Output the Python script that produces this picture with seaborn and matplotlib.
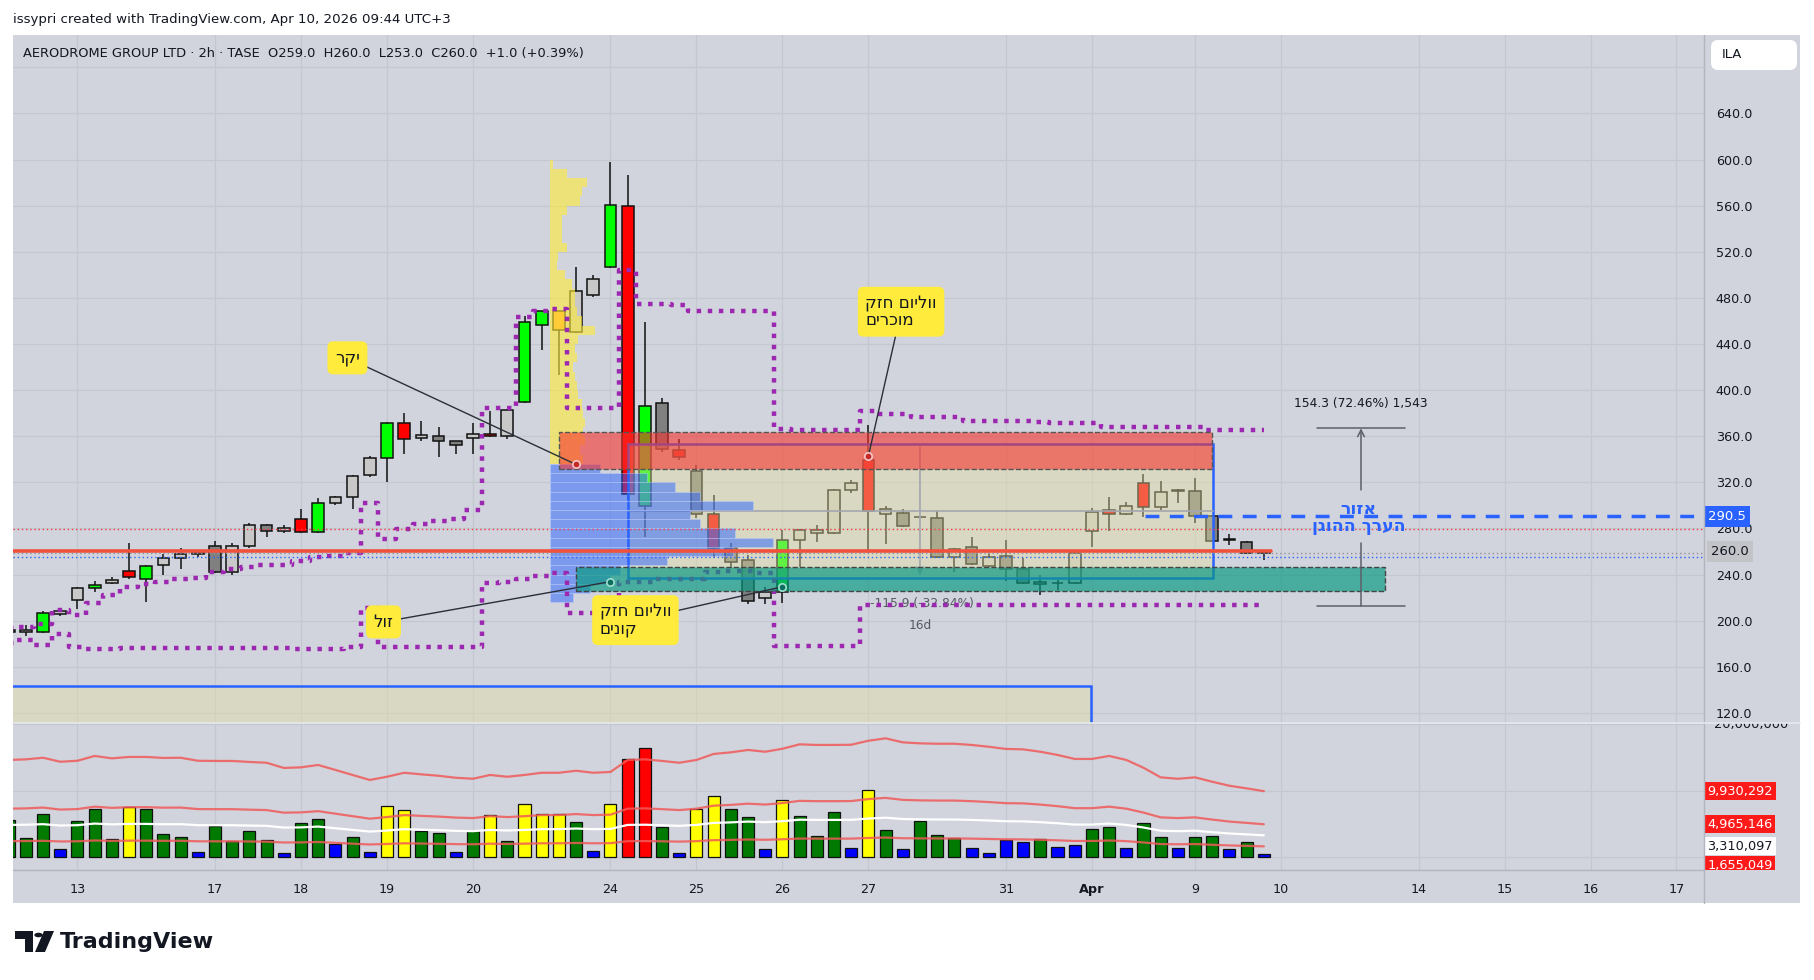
import numpy as np
import matplotlib
matplotlib.use("Agg")
import matplotlib.pyplot as plt
import matplotlib.transforms as mtransforms
from matplotlib.patches import Rectangle, FancyBboxPatch, Polygon, Circle
import seaborn as sns

# ---------------- data ----------------
bar_index = list(range(-4, 70))
opens = [190.0, 190.1, 190.0, 205.6, 218.3, 228.2, 232.5, 242.8, 236.5, 248.0,
         254.5, 257.6, 264.5, 242.2, 264.5, 283.0, 277.5, 288.0, 276.9, 302.5,
         307.2, 326.7, 341.2, 371.3, 358.3, 359.9, 355.8, 358.3, 362.3, 359.9,
         389.3, 456.5, 468.3, 450.6, 482.1, 507.0, 559.7, 299.5, 388.5, 348.0,
         329.8, 292.3, 262.8, 252.7, 219.4, 224.6, 270.0, 275.8, 275.8, 313.4,
         339.2, 292.3, 293.6, 289.7, 288.8, 255.0, 263.7, 247.5, 256.5, 245.0,
         232.0, 232.5, 232.5, 278.1, 296.0, 292.3, 319.2, 298.3, 312.8, 312.2,
         291.1, 270.0, 268.0, 259.0]
highs = [194.0, 196.3, 208.7, 209.5, 229.0, 234.4, 237.5, 267.8, 248.0, 258.2,
         262.9, 260.7, 269.2, 267.8, 284.8, 283.5, 283.0, 297.0, 306.5, 308.5,
         326.0, 343.0, 372.0, 380.0, 373.2, 368.0, 356.0, 371.3, 381.5, 383.5,
         464.6, 469.0, 469.0, 506.7, 499.5, 597.9, 586.6, 458.8, 393.0, 357.6,
         335.0, 309.0, 267.7, 257.0, 229.5, 278.7, 279.5, 283.0, 314.5, 322.3,
         369.7, 299.5, 296.5, 290.0, 295.0, 263.0, 272.9, 258.5, 270.0, 254.2,
         239.6, 235.3, 260.0, 298.0, 307.6, 302.7, 327.3, 321.4, 314.0, 323.4,
         291.5, 275.0, 268.8, 260.0]
lows = [188.5, 187.0, 189.4, 204.5, 210.5, 225.0, 232.0, 236.0, 216.4, 240.0,
        245.0, 255.2, 241.5, 240.0, 262.9, 273.0, 276.5, 276.0, 276.0, 300.5,
        297.2, 325.0, 320.5, 345.0, 356.0, 341.9, 345.0, 345.0, 359.5, 357.5,
        389.0, 435.2, 413.0, 449.5, 481.0, 506.0, 306.0, 272.9, 346.0, 339.4,
        288.8, 254.2, 246.0, 214.5, 214.5, 215.6, 246.9, 268.0, 275.0, 310.5,
        258.5, 266.3, 281.5, 289.4, 254.5, 242.0, 248.0, 246.5, 234.7, 232.0,
        222.3, 226.6, 232.0, 264.2, 278.1, 292.0, 290.2, 296.0, 302.4, 285.0,
        269.0, 265.7, 257.5, 253.0]
closes = [192.0, 191.6, 207.1, 208.1, 228.2, 231.3, 235.0, 237.5, 247.4, 254.5,
          257.6, 259.8, 242.2, 264.5, 283.0, 277.8, 280.0, 276.9, 302.5, 307.2,
          325.2, 341.2, 371.3, 357.3, 360.7, 355.8, 352.1, 362.3, 359.9, 382.4,
          459.0, 468.3, 451.8, 486.2, 496.1, 560.2, 310.0, 386.5, 348.6, 341.7,
          292.3, 262.8, 251.2, 217.4, 224.6, 270.0, 278.7, 278.7, 313.4, 319.2,
          295.0, 296.5, 282.4, 289.7, 255.0, 262.0, 249.0, 255.0, 245.0, 232.5,
          233.3, 232.5, 259.0, 294.6, 292.3, 299.4, 298.3, 311.4, 312.8, 291.1,
          269.4, 270.0, 258.5, 260.0]
candle_kind = list("LLGLLGLRGLLLDLLDLRGLLLGRLDDLRLGGOLLGRGDRDRDDLGLLLLRLDLDLDLDDLLLLRLRLLDDLDL")
volumes_m = [5.6, 2.85, 6.45, 1.2, 5.45, 7.2, 2.7, 7.6, 7.2, 3.45,
             3.1, 0.75, 4.7, 2.45, 3.95, 2.6, 0.6, 5.1, 5.7, 1.95,
             3.0, 0.75, 7.65, 7.05, 3.95, 3.6, 0.75, 3.95, 6.3, 2.45,
             7.95, 6.45, 6.45, 5.25, 0.95, 7.95, 14.7, 16.35, 4.55, 0.6,
             7.2, 9.15, 7.2, 6.0, 1.25, 8.55, 6.15, 3.15, 6.75, 1.35,
             10.05, 4.05, 1.25, 5.4, 3.3, 2.85, 1.4, 0.6, 2.6, 2.25,
             2.75, 1.55, 1.8, 4.2, 4.5, 1.35, 5.1, 3.0, 1.35, 3.0,
             3.15, 1.2, 2.35, 0.45]
volume_kind = list("GGGBGGGYGGGBGGGGBGGBGBYYGGBGYGYYYGBYRRGBYYGGBYGGGBYGBGGGBBBBGBBGGBGGBGGBGB")
vol_avg_m = [4.87, 4.90, 4.98, 4.78, 4.83, 5.07, 4.95, 5.02, 5.02, 4.97,
             4.98, 4.83, 4.82, 4.82, 4.77, 4.73, 4.47, 4.50, 4.62, 4.37,
             4.12, 3.87, 4.03, 4.23, 4.15, 4.08, 3.98, 3.93, 4.12, 4.03,
             4.12, 4.23, 4.23, 4.33, 4.23, 4.27, 4.87, 4.90, 4.82, 4.73,
             4.87, 5.17, 5.25, 5.37, 5.28, 5.43, 5.65, 5.62, 5.62, 5.63,
             5.83, 5.95, 5.75, 5.70, 5.68, 5.68, 5.62, 5.53, 5.42, 5.40,
             5.28, 5.12, 4.92, 4.92, 5.07, 4.87, 4.48, 4.00, 3.93, 4.00,
             3.78, 3.58, 3.45, 3.31]
vol_band_mult = [0.5, 1.5, 3.0]
band_upper = [194.0, 194.5, 197.2, 209.3, 205.2, 215.6, 222.6, 229.5, 232.1, 233.9,
              236.4, 237.3, 242.5, 245.1, 246.9, 248.6, 248.6, 252.1, 255.6, 256.4,
              259.0, 301.8, 270.9, 279.8, 284.2, 286.8, 288.5, 295.8, 384.6, 384.6,
              463.6, 468.6, 470.3, 384.5, 384.5, 384.5, 504.0, 474.6, 474.6, 473.5,
              468.8, 468.8, 468.8, 468.8, 468.8, 366.5, 365.2, 365.2, 365.2, 365.2,
              381.5, 379.3, 379.3, 377.0, 377.0, 377.0, 373.3, 373.3, 373.3, 373.3,
              372.0, 371.2, 371.2, 371.2, 368.3, 368.3, 368.3, 368.3, 368.3, 368.3,
              365.4, 365.4, 365.4, 365.4]
band_lower = [180.9, 183.3, 179.2, 188.8, 177.2, 175.3, 175.3, 176.6, 176.6, 176.6,
              176.6, 176.6, 176.6, 176.6, 176.6, 176.6, 176.6, 175.3, 175.3, 175.3,
              177.5, 211.0, 176.8, 176.8, 176.8, 176.8, 176.8, 176.8, 232.5, 233.9,
              235.9, 239.0, 241.1, 206.4, 206.4, 206.4, 233.9, 233.9, 235.9, 235.9,
              235.9, 242.5, 243.0, 243.0, 241.1, 178.0, 178.0, 178.0, 178.0, 178.0,
              213.7, 213.7, 213.7, 213.7, 213.7, 213.7, 213.7, 213.7, 213.7, 213.7,
              213.7, 213.7, 213.7, 213.7, 213.7, 213.7, 213.7, 213.7, 213.7, 213.7,
              213.7, 213.7, 213.7, 213.7]
profile_price = [220, 228, 236, 244, 252, 260, 268, 276, 284, 292, 300, 308, 316, 324, 332,
                 340, 348, 356, 364, 372, 380, 388, 396, 404, 412, 420, 428, 436, 444, 452,
                 460, 468, 476, 484, 492, 500, 508, 516, 524, 532, 540, 548, 556, 564, 572,
                 580, 588, 596]
profile_volume = [23, 40, 60, 70, 117, 183, 223, 185, 150, 140, 203, 150, 125, 97, 50,
                  33, 30, 35, 33, 35, 33, 32, 28, 27, 25, 23, 27, 25, 28, 45,
                  32, 27, 25, 25, 22, 15, 7, 8, 17, 12, 12, 12, 17, 30, 32,
                  37, 17, 3]
value_area_low, value_area_high = 216.0, 336.0
tick_pos = [0, 8, 13, 18, 23, 31, 36, 41, 46, 54, 59, 65, 70, 78, 83, 88, 93]
tick_labels = ['13', '17', '18', '19', '20', '24', '25', '26', '27', '31', 'Apr', '9', '10', '14', '15', '16', '17']
price_ticks = [120, 160, 200, 240, 280, 320, 360, 400, 440, 480, 520, 560, 600, 640, 680]

# drawings on the chart (data coordinates: bar index, price)
red_zone = (28.0, 66.0, 331.3, 363.4)
teal_zone = (29.0, 76.06, 226.0, 246.3)
range_box = (32.0, 66.03, 237.0, 352.9)
old_box = (-10.0, 58.96, 90.0, 143.5)
poc_level, poc_end = 260.6, 69.4
fair_value, fair_start = 290.5, 62.1
last_price = 260.0
dotted_levels = [(279.3, '#f23645'), (259.0, '#8f939c'), (255.2, '#2962ff')]
measure = (74.65, 212.6, 366.9)

notes = [("יקר", (15.7, 428.0), (29.0, 335.5), '#c62828'),
         ("ווליום חזק\nמוכרים", (47.9, 468.0), (46.0, 342.8), '#c62828'),
         ("זול", (17.8, 199.0), (31.0, 233.9), '#0d6e5e'),
         ("ווליום חזק\nקונים", (32.45, 200.5), (41.0, 229.5), '#0d6e5e')]
zone_text = "אזור\nהערך ההוגן"

# ---------------- style ----------------
sns.set_theme(style="darkgrid")
plt.rcParams['font.family'] = ['DejaVu Sans']
plt.rcParams['axes.axisbelow'] = True

W, H = 1814, 980
BG = '#d1d4dc'
GRID = '#c3c7d0'
TXT = '#131722'


def fx(px):
    return px / W


def fy(py):
    return 1 - py / H


def rtl(s):
    return "\n".join(line[::-1] for line in s.split("\n"))


fig = plt.figure(figsize=(W / 100, H / 100), dpi=100, facecolor='white')
fig.add_artist(Rectangle((fx(13), fy(903)), (1800 - 13) / W, (903 - 35) / H,
                         transform=fig.transFigure, fc=BG, ec='none', zorder=-5))

ax = fig.add_axes([fx(13), fy(723), (1704 - 13) / W, (723 - 35) / H])
axv = fig.add_axes([fx(13), fy(870), (1704 - 13) / W, (870 - 723) / H])
for a in (ax, axv):
    a.set_facecolor(BG)
    a.set_xlim(-3.75, 94.6)
    a.grid(True, color=GRID, lw=0.9)
    for s in a.spines.values():
        s.set_visible(False)
ax.set_ylim(111.3, 708.0)
axv.set_ylim(-1.89e6, 20.15e6)

x = np.array(bar_index, dtype=float)
o = np.array(opens); h = np.array(highs); l = np.array(lows); c = np.array(closes)

# bottom old range box
ax.add_patch(Rectangle((old_box[0], old_box[2]), old_box[1] - old_box[0], old_box[3] - old_box[2],
                       fc=(0.90, 0.88, 0.63, 0.42), ec='#2962ff', lw=1.8, zorder=1))

# candles
cmap = {'G': '#00ff00', 'R': '#ff0000', 'L': '#c8c8c8', 'D': '#808080', 'O': '#ff9933'}
ax.vlines(x, l, h, color='#111111', lw=1.1, zorder=2)
body_bottom = np.minimum(o, c)
body_h = np.maximum(np.abs(c - o), 0.5)
ax.bar(x, body_h, bottom=body_bottom, width=0.68, color=[cmap[k] for k in candle_kind],
       edgecolor='#111111', linewidth=1.1, zorder=2.1)

# price range box (under the profile)
ax.add_patch(Rectangle((range_box[0], range_box[2]), range_box[1] - range_box[0], range_box[3] - range_box[2],
                       fc=(0.90, 0.88, 0.63, 0.42), ec='#2962ff', lw=1.8, zorder=3))
mid = (range_box[2] + range_box[3]) / 2
ax.plot([range_box[0], range_box[1]], [mid, mid], color='#a3a6ae', lw=1.2, zorder=3.2)
ax.annotate('', xy=(49.0, range_box[2]), xytext=(49.0, range_box[3]),
            arrowprops=dict(arrowstyle='->', color='#a3a6ae', lw=1.2), zorder=3.2)
ax.text(49.1, 214.6, "-115.9 (-32.84%)", ha='center', va='center', fontsize=8.8, color='#555a63', zorder=4.6)
ax.text(49.0, 195.5, "16d", ha='center', va='center', fontsize=8.8, color='#555a63', zorder=4.6)

# volume profile
pp = np.array(profile_price, dtype=float)
pv = np.array(profile_volume, dtype=float) / 17.19
blue = (pp >= value_area_low) & (pp < value_area_high)
ax.barh(pp[blue], pv[blue], left=27.5, height=8, color='#2962ff', alpha=0.5,
        edgecolor=(0.78, 0.84, 1.0), linewidth=0.5, zorder=4)
ax.barh(pp[~blue], pv[~blue], left=27.5, height=8, color='#ffeb3b', alpha=0.62,
        edgecolor='none', zorder=4)

# purple step lines
for band in (band_upper, band_lower):
    ax.plot(x, band, drawstyle='steps-mid', color='#9c27b0', lw=3.2, ls=(0, (1, 1.5)),
            dash_capstyle='butt', zorder=5)

# zones
ax.add_patch(Rectangle((red_zone[0], red_zone[2]), red_zone[1] - red_zone[0], red_zone[3] - red_zone[2],
                       fc=(0.965, 0.196, 0.176, 0.6), ec='#555555', ls='--', lw=1.0, zorder=6))
ax.add_patch(Rectangle((teal_zone[0], teal_zone[2]), teal_zone[1] - teal_zone[0], teal_zone[3] - teal_zone[2],
                       fc=(0.031, 0.6, 0.506, 0.68), ec='#444444', ls='--', lw=1.0, zorder=6))

# horizontal lines
ax.plot([-10, poc_end], [poc_level, poc_level], color='#f0503c', lw=2.6, zorder=7)
for lvl, col in dotted_levels:
    ax.axhline(lvl, color=col, lw=1.0, ls=(0, (1, 2)), zorder=7)
ax.plot([fair_start, 100], [fair_value, fair_value], color='#2962ff', lw=2.5, ls=(0, (4, 3)), zorder=7)

# annotations
for txt, pos, tgt, dotc in notes:
    ax.annotate(rtl(txt), xy=tgt, xytext=pos, ha='center', va='center', fontsize=12, color=TXT,
                multialignment='left', linespacing=0.92,
                bbox=dict(boxstyle='round,pad=0.45,rounding_size=0.35', fc='#ffeb3b', ec='none'),
                arrowprops=dict(arrowstyle='-', color='#2a2e39', lw=1.0, shrinkA=0, shrinkB=0),
                zorder=9)
    ax.scatter([tgt[0]], [tgt[1]], s=28, c=dotc, edgecolors='#f5c6c6' if dotc == '#c62828' else '#9fe0d0',
               linewidths=1.2, zorder=9.5)

ax.text(74.5, 289.5, rtl(zone_text), ha='center', va='center', fontsize=12.5, fontweight='bold',
        color='#2962ff', linespacing=0.95, zorder=9)

# measurement tool
mx, mlo, mhi = measure
ax.plot([mx - 2.55, mx + 2.55], [mhi, mhi], color='#5d606b', lw=1.1, zorder=8)
ax.plot([mx - 2.55, mx + 2.55], [mlo, mlo], color='#5d606b', lw=1.1, zorder=8)
ax.annotate('', xy=(mx, mhi), xytext=(mx, 313.4),
            arrowprops=dict(arrowstyle='->', color='#5d606b', lw=1.1, shrinkA=0, shrinkB=0), zorder=8)
ax.plot([mx, mx], [mlo, 267.2], color='#5d606b', lw=1.1, zorder=8)
ax.text(mx, 388.0, "154.3 (72.46%) 1,543", ha='center', va='center', fontsize=8.8, color=TXT, zorder=8)

# axes ticks
ax.yaxis.tick_right()
ax.set_yticks(price_ticks)
ax.set_yticklabels([f"{v:.1f}" if v <= 640 else "" for v in price_ticks])
ax.tick_params(axis='y', length=0, pad=8.5, labelsize=9.2, labelcolor=TXT)
ax.set_xticks(tick_pos)
ax.tick_params(axis='x', labelbottom=False, length=0)

ptrans = mtransforms.blended_transform_factory(ax.transAxes, ax.transData)
ax.annotate(f"{fair_value:.1f}", xy=(1.0, fair_value), xycoords=ptrans, xytext=(3, 0), textcoords='offset points',
            ha='left', va='center', fontsize=9.5, color='white', annotation_clip=False,
            bbox=dict(boxstyle='square,pad=0.3', fc='#2962ff', ec='none'), zorder=20)
ax.annotate(f"{last_price:.1f}", xy=(1.0, last_price), xycoords=ptrans, xytext=(5, 0), textcoords='offset points',
            ha='left', va='center', fontsize=9.5, color=TXT, annotation_clip=False,
            bbox=dict(boxstyle='square,pad=0.3', fc='#c2c4c8', ec='none'), zorder=20)

# volume pane
vol = np.array(volumes_m) * 1e6
vcmap = {'G': '#007a00', 'Y': '#ffff00', 'B': '#0000ff', 'R': '#ff0000'}
axv.bar(x, vol, width=0.7, color=[vcmap[k] for k in volume_kind], edgecolor='#111111', linewidth=0.9, zorder=2)
avg = np.array(vol_avg_m) * 1e6
sns.lineplot(x=x, y=avg, ax=axv, color='white', lw=1.6, zorder=3)
for m in vol_band_mult:
    sns.lineplot(x=x, y=avg * m, ax=axv, color='#f05a5a', lw=1.6, alpha=0.85, zorder=3)
axv.set_yticks([0, 1e7, 2e7])
axv.tick_params(axis='y', left=False, right=False, labelleft=False, labelright=False, length=0)
axv.set_xticks(tick_pos)
axv.set_xticklabels(tick_labels)
axv.tick_params(axis='x', length=0, pad=9, labelsize=9.2, labelcolor=TXT)
for t in axv.get_xticklabels():
    if t.get_text() == 'Apr':
        t.set_fontweight('bold')
axv.set_xlabel('')
axv.set_ylabel('')

clip_rect = Rectangle((fx(13), fy(870)), (1800 - 13) / W, (870 - 723) / H, transform=fig.transFigure,
                      fc='none', ec='none')
vtrans = mtransforms.blended_transform_factory(axv.transAxes, axv.transData)
vol_labels = [(3 * vol_avg_m[-1] * 1e6, "9,930,292", '#ff1a1a', 'white', 0),
              (1.5 * vol_avg_m[-1] * 1e6, "4,965,146", '#ff1a1a', 'white', 0),
              (vol_avg_m[-1] * 1e6, "3,310,097", 'white', TXT, -7.8),
              (0.5 * vol_avg_m[-1] * 1e6, "1,655,049", '#ff1a1a', 'white', -13.7)]
for val, txt, fc, tc, dy in vol_labels:
    t = axv.annotate(txt, xy=(1.0, val), xycoords=vtrans, xytext=(2.5, dy), textcoords='offset points',
                     ha='left', va='center', fontsize=9.3, color=tc, annotation_clip=False,
                     bbox=dict(boxstyle='square,pad=0.2', fc=fc, ec='none'), zorder=20)
    t.set_clip_on(True)
    t.set_clip_path(clip_rect)
t = axv.text(1.006, 2e7, "20,000,000", transform=vtrans, ha='left', va='center', fontsize=9.3, color=TXT)
t.set_clip_on(True)
t.set_clip_path(clip_rect)

# frame lines
fig.add_artist(plt.Line2D([fx(1704), fx(1704)], [fy(35), fy(903)], transform=fig.transFigure,
                          color='#b2b5be', lw=1.0))
fig.add_artist(plt.Line2D([fx(13), fx(1800)], [fy(723), fy(723)], transform=fig.transFigure,
                          color='#e6e8ee', lw=1.2))
fig.add_artist(plt.Line2D([fx(13), fx(1704)], [fy(870), fy(870)], transform=fig.transFigure,
                          color='#b2b5be', lw=1.0))

# ILA box
fig.add_artist(FancyBboxPatch((fx(1711), fy(70)), 86 / W, 30 / H, boxstyle='round,pad=0,rounding_size=0.004',
                              mutation_aspect=W / H, transform=fig.transFigure, fc='white', ec='none', zorder=5))
fig.text(fx(1722), fy(55), "ILA", ha='left', va='center', fontsize=9.5, color=TXT, zorder=6)

# header texts
fig.text(fx(13), fy(19), "issypri created with TradingView.com, Apr 10, 2026 09:44 UTC+3",
         ha='left', va='center', fontsize=9.6, color=TXT)
fig.text(fx(23), fy(53), "AERODROME GROUP LTD · 2h · TASE  O259.0  H260.0  L253.0  C260.0  +1.0 (+0.39%)",
         ha='left', va='center', fontsize=9.4, color=TXT)

# TradingView logo
fig.add_artist(Polygon([(fx(15), fy(931)), (fx(33), fy(931)), (fx(33), fy(952)), (fx(25), fy(952)),
                        (fx(25), fy(939)), (fx(15), fy(939))], closed=True, transform=fig.transFigure,
                       fc='#131722', ec='none'))
fig.add_artist(Polygon([(fx(44), fy(931)), (fx(54), fy(931)), (fx(45), fy(952)), (fx(35), fy(952))],
                       closed=True, transform=fig.transFigure, fc='#131722', ec='none'))
fig.add_artist(Circle((fx(38.5), fy(935)), 4.2 / W, transform=fig.transFigure, fc='#131722', ec='none'))
fig.text(fx(60), fy(942), "TradingView", ha='left', va='center', fontsize=16, fontweight='bold', color='#131722')

fig.savefig("out.png", dpi=100, facecolor='white')
